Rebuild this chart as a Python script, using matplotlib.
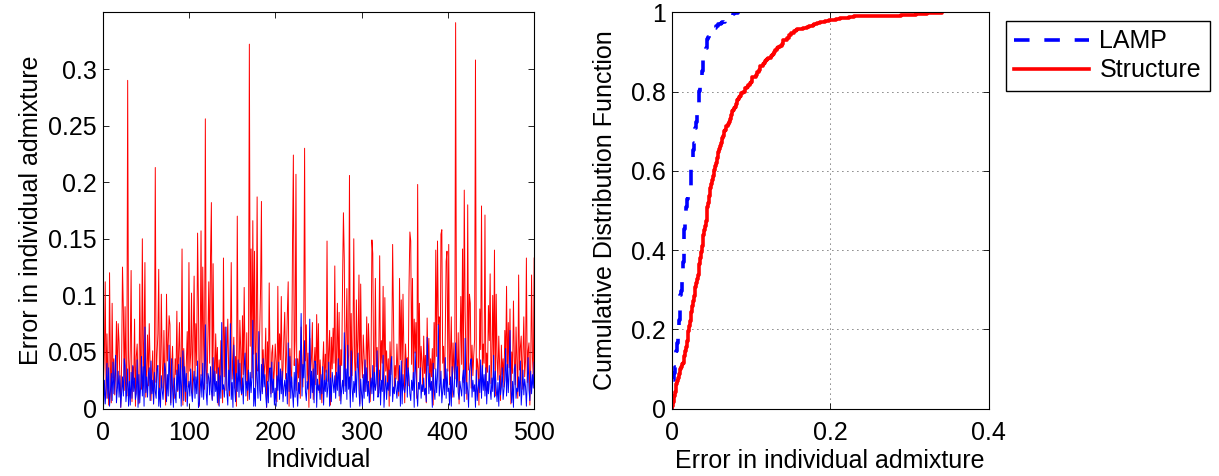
import numpy as np
import matplotlib
matplotlib.use("Agg")
import matplotlib.pyplot as plt
from matplotlib.ticker import FormatStrFormatter

# error in individual admixture, individuals 1..500
structure_err = [
    0.021, 0.048, 0.112, 0.009, 0.066, 0.031, 0.003, 0.120, 0.038, 0.005,
    0.093, 0.027, 0.044, 0.012, 0.035, 0.077, 0.018, 0.075, 0.059, 0.024,
    0.001, 0.041, 0.125, 0.087, 0.016, 0.090, 0.033, 0.011, 0.290, 0.045,
    0.019, 0.052, 0.122, 0.006, 0.037, 0.025, 0.079, 0.002, 0.046, 0.057,
    0.022, 0.004, 0.110, 0.039, 0.017, 0.150, 0.029, 0.061, 0.129, 0.010,
    0.034, 0.065, 0.020, 0.075, 0.043, 0.007, 0.028, 0.051, 0.004, 0.036,
    0.213, 0.023, 0.047, 0.066, 0.123, 0.011, 0.032, 0.101, 0.040, 0.018,
    0.069, 0.026, 0.003, 0.101, 0.042, 0.058, 0.082, 0.074, 0.005, 0.036,
    0.055, 0.021, 0.009, 0.044, 0.030, 0.086, 0.015, 0.049, 0.076, 0.024,
    0.037, 0.141, 0.003, 0.053, 0.027, 0.006, 0.041, 0.068, 0.019, 0.129,
    0.033, 0.048, 0.102, 0.013, 0.062, 0.117, 0.025, 0.075, 0.038, 0.155,
    0.092, 0.002, 0.045, 0.157, 0.029, 0.125, 0.056, 0.017, 0.256, 0.035,
    0.022, 0.064, 0.112, 0.040, 0.134, 0.182, 0.008, 0.128, 0.047, 0.023,
    0.066, 0.031, 0.054, 0.003, 0.043, 0.020, 0.060, 0.036, 0.005, 0.133,
    0.028, 0.072, 0.016, 0.050, 0.079, 0.034, 0.011, 0.057, 0.129, 0.026,
    0.042, 0.063, 0.018, 0.046, 0.002, 0.170, 0.038, 0.024, 0.078, 0.052,
    0.012, 0.082, 0.030, 0.107, 0.044, 0.021, 0.067, 0.007, 0.039, 0.322,
    0.055, 0.141, 0.027, 0.166, 0.048, 0.139, 0.019, 0.061, 0.187, 0.033,
    0.045, 0.068, 0.106, 0.183, 0.015, 0.052, 0.028, 0.040, 0.071, 0.001,
    0.059, 0.024, 0.111, 0.037, 0.013, 0.049, 0.056, 0.020, 0.034, 0.057,
    0.041, 0.006, 0.108, 0.029, 0.066, 0.043, 0.099, 0.017, 0.035, 0.064,
    0.085, 0.026, 0.047, 0.084, 0.112, 0.002, 0.053, 0.031, 0.022, 0.146,
    0.224, 0.038, 0.060, 0.207, 0.016, 0.044, 0.027, 0.051, 0.009, 0.072,
    0.036, 0.019, 0.066, 0.230, 0.042, 0.074, 0.023, 0.049, 0.001, 0.062,
    0.033, 0.045, 0.076, 0.008, 0.039, 0.054, 0.021, 0.083, 0.030, 0.075,
    0.014, 0.043, 0.026, 0.005, 0.037, 0.059, 0.018, 0.048, 0.032, 0.148,
    0.024, 0.050, 0.069, 0.003, 0.063, 0.035, 0.071, 0.040, 0.126, 0.017,
    0.046, 0.093, 0.028, 0.085, 0.007, 0.052, 0.038, 0.112, 0.173, 0.131,
    0.020, 0.058, 0.106, 0.034, 0.047, 0.206, 0.013, 0.084, 0.029, 0.055,
    0.150, 0.041, 0.022, 0.096, 0.036, 0.061, 0.118, 0.004, 0.110, 0.044,
    0.027, 0.065, 0.046, 0.015, 0.039, 0.081, 0.023, 0.075, 0.050, 0.006,
    0.042, 0.149, 0.137, 0.031, 0.019, 0.115, 0.037, 0.054, 0.012, 0.048,
    0.135, 0.025, 0.060, 0.040, 0.108, 0.016, 0.098, 0.033, 0.051, 0.021,
    0.044, 0.002, 0.059, 0.030, 0.047, 0.145, 0.082, 0.018, 0.038, 0.026,
    0.057, 0.035, 0.011, 0.115, 0.043, 0.096, 0.024, 0.101, 0.052, 0.005,
    0.057, 0.032, 0.045, 0.020, 0.108, 0.156, 0.148, 0.039, 0.115, 0.027,
    0.079, 0.049, 0.076, 0.009, 0.198, 0.036, 0.093, 0.022, 0.055, 0.041,
    0.015, 0.064, 0.031, 0.047, 0.005, 0.080, 0.038, 0.062, 0.019, 0.044,
    0.028, 0.053, 0.003, 0.076, 0.035, 0.140, 0.046, 0.148, 0.074, 0.081,
    0.024, 0.154, 0.158, 0.040, 0.055, 0.017, 0.066, 0.130, 0.139, 0.033,
    0.145, 0.021, 0.048, 0.081, 0.010, 0.058, 0.037, 0.026, 0.341, 0.045,
    0.030, 0.067, 0.004, 0.050, 0.099, 0.039, 0.141, 0.023, 0.193, 0.087,
    0.042, 0.008, 0.180, 0.034, 0.101, 0.093, 0.018, 0.056, 0.029, 0.047,
    0.061, 0.308, 0.020, 0.044, 0.036, 0.003, 0.088, 0.052, 0.179, 0.027,
    0.057, 0.040, 0.171, 0.016, 0.049, 0.032, 0.091, 0.060, 0.119, 0.022,
    0.043, 0.100, 0.035, 0.140, 0.011, 0.101, 0.046, 0.025, 0.064, 0.038,
    0.007, 0.056, 0.030, 0.044, 0.019, 0.069, 0.041, 0.108, 0.024, 0.076,
    0.036, 0.088, 0.004, 0.050, 0.031, 0.095, 0.045, 0.021, 0.072, 0.039,
    0.009, 0.118, 0.034, 0.054, 0.064, 0.017, 0.047, 0.081, 0.028, 0.042,
    0.133, 0.023, 0.051, 0.058, 0.003, 0.037, 0.118, 0.045, 0.026, 0.133,
]

lamp_err = [
    0.001, 0.025, 0.004, 0.018, 0.040, 0.009, 0.036, 0.002, 0.015, 0.031,
    0.007, 0.041, 0.013, 0.026, 0.047, 0.005, 0.017, 0.033, 0.010, 0.029,
    0.001, 0.014, 0.028, 0.011, 0.044, 0.038, 0.006, 0.016, 0.035, 0.002,
    0.024, 0.003, 0.032, 0.009, 0.038, 0.015, 0.027, 0.008, 0.013, 0.043,
    0.001, 0.030, 0.005, 0.019, 0.046, 0.011, 0.037, 0.002, 0.072, 0.014,
    0.028, 0.010, 0.030, 0.036, 0.007, 0.042, 0.013, 0.025, 0.004, 0.032,
    0.015, 0.009, 0.035, 0.038, 0.002, 0.018, 0.001, 0.029, 0.016, 0.008,
    0.024, 0.040, 0.033, 0.006, 0.030, 0.011, 0.056, 0.021, 0.003, 0.044,
    0.017, 0.001, 0.027, 0.013, 0.005, 0.034, 0.016, 0.039, 0.009, 0.045,
    0.002, 0.026, 0.051, 0.007, 0.037, 0.015, 0.031, 0.002, 0.018, 0.024,
    0.011, 0.035, 0.014, 0.006, 0.023, 0.033, 0.009, 0.028, 0.013, 0.042,
    0.001, 0.004, 0.016, 0.030, 0.010, 0.040, 0.008, 0.025, 0.074, 0.014,
    0.003, 0.031, 0.027, 0.012, 0.037, 0.016, 0.007, 0.045, 0.011, 0.033,
    0.015, 0.024, 0.005, 0.036, 0.002, 0.029, 0.009, 0.076, 0.017, 0.021,
    0.010, 0.026, 0.072, 0.014, 0.003, 0.034, 0.016, 0.075, 0.008, 0.023,
    0.001, 0.056, 0.018, 0.006, 0.031, 0.015, 0.043, 0.010, 0.040, 0.017,
    0.013, 0.027, 0.004, 0.038, 0.049, 0.011, 0.024, 0.016, 0.034, 0.008,
    0.032, 0.014, 0.028, 0.078, 0.002, 0.018, 0.002, 0.049, 0.025, 0.009,
    0.068, 0.016, 0.007, 0.039, 0.013, 0.044, 0.019, 0.030, 0.011, 0.001,
    0.024, 0.005, 0.033, 0.036, 0.010, 0.041, 0.014, 0.026, 0.003, 0.018,
    0.002, 0.029, 0.016, 0.041, 0.008, 0.035, 0.013, 0.033, 0.006, 0.019,
    0.025, 0.011, 0.031, 0.004, 0.058, 0.015, 0.046, 0.009, 0.028, 0.014,
    0.001, 0.032, 0.010, 0.044, 0.016, 0.002, 0.023, 0.013, 0.037, 0.084,
    0.011, 0.039, 0.027, 0.060, 0.015, 0.007, 0.024, 0.017, 0.031, 0.079,
    0.009, 0.033, 0.014, 0.035, 0.005, 0.042, 0.039, 0.001, 0.026, 0.016,
    0.021, 0.008, 0.030, 0.013, 0.037, 0.003, 0.025, 0.015, 0.034, 0.010,
    0.019, 0.041, 0.002, 0.027, 0.006, 0.032, 0.023, 0.014, 0.029, 0.009,
    0.032, 0.016, 0.044, 0.011, 0.038, 0.004, 0.018, 0.025, 0.013, 0.067,
    0.015, 0.035, 0.008, 0.056, 0.017, 0.028, 0.001, 0.051, 0.019, 0.006,
    0.024, 0.014, 0.033, 0.010, 0.040, 0.049, 0.016, 0.002, 0.026, 0.013,
    0.002, 0.030, 0.009, 0.043, 0.015, 0.036, 0.011, 0.024, 0.005, 0.017,
    0.027, 0.013, 0.038, 0.007, 0.032, 0.016, 0.022, 0.051, 0.010, 0.014,
    0.034, 0.003, 0.025, 0.015, 0.047, 0.001, 0.018, 0.029, 0.008, 0.023,
    0.016, 0.034, 0.011, 0.039, 0.046, 0.006, 0.019, 0.013, 0.027, 0.017,
    0.009, 0.024, 0.015, 0.038, 0.002, 0.042, 0.004, 0.030, 0.017, 0.014,
    0.022, 0.044, 0.010, 0.036, 0.028, 0.013, 0.007, 0.025, 0.016, 0.032,
    0.001, 0.050, 0.033, 0.014, 0.002, 0.023, 0.017, 0.036, 0.009, 0.021,
    0.015, 0.027, 0.012, 0.018, 0.006, 0.063, 0.041, 0.013, 0.031, 0.016,
    0.024, 0.001, 0.040, 0.017, 0.008, 0.035, 0.014, 0.029, 0.074, 0.011,
    0.019, 0.033, 0.005, 0.016, 0.026, 0.012, 0.045, 0.009, 0.035, 0.015,
    0.018, 0.003, 0.028, 0.002, 0.037, 0.016, 0.010, 0.030, 0.058, 0.019,
    0.037, 0.014, 0.008, 0.024, 0.017, 0.011, 0.027, 0.034, 0.006, 0.062,
    0.013, 0.023, 0.016, 0.001, 0.032, 0.040, 0.044, 0.010, 0.025, 0.015,
    0.021, 0.001, 0.034, 0.007, 0.018, 0.026, 0.014, 0.043, 0.009, 0.038,
    0.016, 0.030, 0.011, 0.036, 0.004, 0.024, 0.013, 0.038, 0.017, 0.008,
    0.027, 0.015, 0.047, 0.010, 0.033, 0.018, 0.006, 0.023, 0.002, 0.029,
    0.012, 0.019, 0.036, 0.008, 0.016, 0.025, 0.053, 0.011, 0.039, 0.014,
    0.031, 0.069, 0.017, 0.005, 0.024, 0.001, 0.035, 0.039, 0.009, 0.018,
    0.015, 0.028, 0.011, 0.042, 0.003, 0.017, 0.034, 0.012, 0.026, 0.019,
    0.002, 0.024, 0.045, 0.016, 0.007, 0.033, 0.013, 0.030, 0.018, 0.041,
]

structure_err = np.array(structure_err)
lamp_err = np.array(lamp_err)
individual = np.arange(1, len(structure_err) + 1)

plt.rcParams['font.family'] = ['Liberation Sans', 'DejaVu Sans']
plt.rcParams['font.size'] = 18

fig = plt.figure(figsize=(12.19, 4.76), dpi=100)
ax1 = fig.add_axes([0.0842, 0.1418, 0.354, 0.832])
ax2 = fig.add_axes([0.551, 0.1418, 0.260, 0.832])

# left: per-individual error
ax1.plot(individual, structure_err, color='#ff0000', lw=0.7)
ax1.plot(individual, lamp_err, color='#0000ff', lw=0.7)
ax1.set_xlim(0, 500)
ax1.set_ylim(0, 0.35)
ax1.set_xticks([0, 100, 200, 300, 400, 500])
ax1.set_yticks([0, 0.05, 0.1, 0.15, 0.2, 0.25, 0.3])
ax1.yaxis.set_major_formatter(FormatStrFormatter('%g'))
ax1.set_xlabel('Individual', labelpad=2)
ax1.set_ylabel('Error in individual admixture')

# right: empirical CDF
def ecdf(v):
    s = np.sort(v)
    y = np.arange(1, len(s) + 1) / len(s)
    return np.concatenate([[0], s]), np.concatenate([[0], y])

xs, ys = ecdf(lamp_err)
ax2.step(xs, ys, where='post', color='#0000ff', lw=2.6,
         linestyle=(0, (4.3, 4.1)), label='LAMP')
xs, ys = ecdf(structure_err)
ax2.step(xs, ys, where='post', color='#ff0000', lw=2.6, label='Structure')
ax2.set_xlim(0, 0.4)
ax2.set_ylim(0, 1)
ax2.set_xticks([0, 0.2, 0.4])
ax2.set_yticks([0, 0.2, 0.4, 0.6, 0.8, 1])
ax2.xaxis.set_major_formatter(FormatStrFormatter('%g'))
ax2.yaxis.set_major_formatter(FormatStrFormatter('%g'))
ax2.grid(True, color='black', linestyle=(0, (1, 5)), lw=0.6)
ax2.set_xlabel('Error in individual admixture', labelpad=3)
ax2.set_ylabel('Cumulative Distribution Function', labelpad=10)

for ax in (ax1, ax2):
    ax.tick_params(direction='in', top=True, right=True, length=4, width=0.6)
    ax.tick_params(axis='x', pad=9)
    ax.tick_params(axis='y', pad=4)
    for sp in ax.spines.values():
        sp.set_linewidth(0.8)

fig.legend(*ax2.get_legend_handles_labels(), loc='upper left',
           bbox_to_anchor=(1005.7 / 1219, 1 - 20.7 / 476), borderaxespad=0,
           fancybox=False, edgecolor='black', framealpha=1, handlelength=3.0,
           borderpad=0.35, labelspacing=0.2, handletextpad=0.4)

fig.savefig('out.png', dpi=100)
